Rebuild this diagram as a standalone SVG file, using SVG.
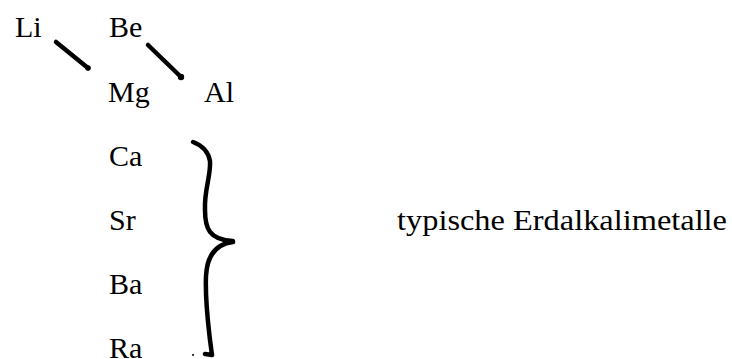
<svg xmlns="http://www.w3.org/2000/svg" width="732" height="359" viewBox="0 0 732 359">
  <style>
    .el { font-family: "Liberation Serif", "Times New Roman", serif; font-size: 30px; fill: #000; }
    .stroke { fill: none; stroke: #000; stroke-width: 4.5; stroke-linecap: round; stroke-linejoin: round; }
  </style>
  <rect width="732" height="359" fill="#fff"/>

  <!-- element symbols -->
  <g id="li"><text class="el" x="15" y="37">Li</text></g>
  <g id="be"><text class="el" x="109" y="37">Be</text></g>
  <g id="mg"><text class="el" x="108" y="102">Mg</text></g>
  <g id="al"><text class="el" x="204" y="102">Al</text></g>
  <g id="ca"><text class="el" x="109" y="166">Ca</text></g>
  <g id="sr"><text class="el" x="109" y="230">Sr</text></g>
  <g id="ba"><text class="el" x="109" y="294">Ba</text></g>
  <g id="ra"><text class="el" x="109" y="358">Ra</text></g>
  <g id="label"><text class="el" x="397" y="230" textLength="330" lengthAdjust="spacingAndGlyphs">typische Erdalkalimetalle</text></g>

  <!-- diagonal relationships and grouping brace -->
  <g id="connectors">
    <path class="stroke" d="M56,42 L88,68"/>
    <circle cx="88" cy="68" r="2.8"/>
    <path class="stroke" d="M148,45 L180,76"/>
    <circle cx="181" cy="77" r="3.2"/>
    <path class="stroke" d="M193,142 C201,145 208,150 210,161 C211,176 204,190 205,210 C205,228 209,240 233,241"/>
    <path class="stroke" d="M233,242 C216,244 207,256 206,276 C205,300 208,322 210,340 L212,355 L205,354"/>
    <circle cx="193" cy="355" r="1"/>
  </g>
</svg>
